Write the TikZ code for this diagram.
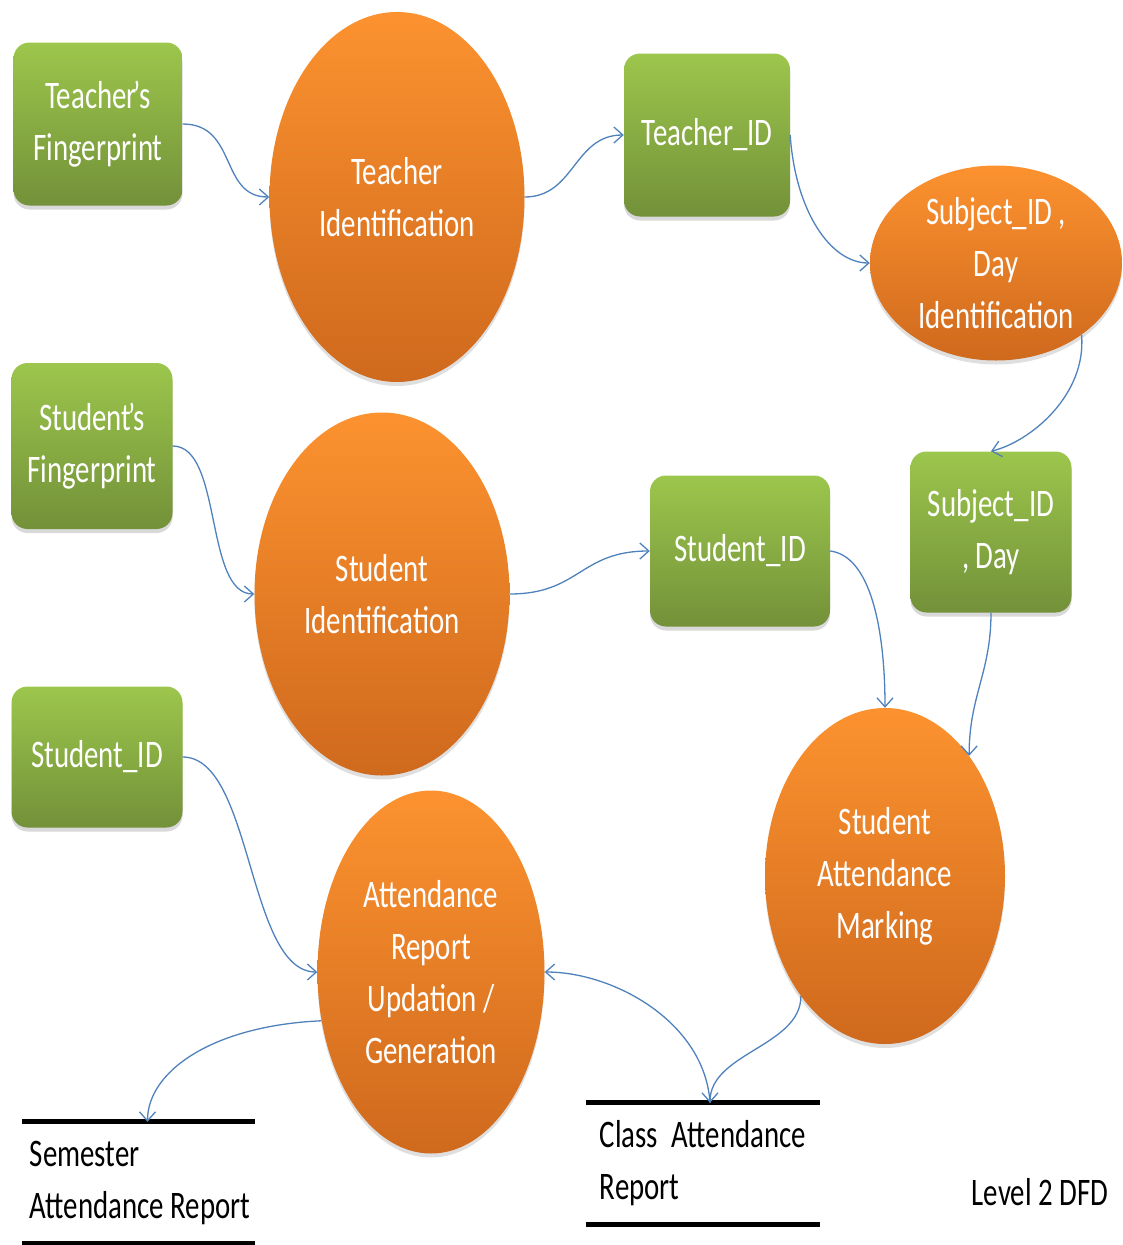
\documentclass[tikz,border=0pt]{standalone}
\usepackage{fontspec}
\setmainfont{Carlito}[FakeStretch=0.74]
\usetikzlibrary{shapes.geometric,arrows.meta,shadows}

\definecolor{greenTop}{HTML}{9CC64C}
\definecolor{greenBot}{HTML}{739139}
\definecolor{orangeTop}{HTML}{FC922F}
\definecolor{orangeBot}{HTML}{CF691D}
\definecolor{flow}{HTML}{4F81BD}

\begin{document}
\begin{tikzpicture}[x=1pt,y=-1pt,
  every node/.style={font=\fontsize{39}{52}\selectfont},
  entity/.style={rectangle, rounded corners=16pt, top color=greenTop, bottom color=greenBot,
    text=white, align=center, inner sep=0pt,
    drop shadow={opacity=0.3, shadow xshift=0pt, shadow yshift=-4pt}},
  process/.style={ellipse, top color=orangeTop, bottom color=orangeBot,
    text=white, align=center, inner sep=0pt,
    drop shadow={opacity=0.25, shadow xshift=0pt, shadow yshift=-4pt}},
  flowline/.style={draw=flow, line width=1.3pt, -{Straight Barb[length=9pt,width=16pt]}},
  storeline/.style={line width=5pt, draw=black},
  store/.style={minimum width=233pt, minimum height=121pt, align=left, inner sep=0pt}
]
\useasboundingbox (0,0) rectangle (1123,1245);

% external entities
\node[entity, minimum width=169pt, minimum height=163pt] (tfp) at (98,124) {Teacher\kern-0.08em’s\\Fingerprint};
\node[entity, minimum width=166pt, minimum height=163pt] (tid) at (707,135) {Teacher\_ID};
\node[entity, minimum width=161pt, minimum height=166pt] (sfp) at (92,446) {Student\kern-0.08em’s\\Fingerprint};
\node[entity, minimum width=180pt, minimum height=151pt] (sid) at (740,551) {Student\_ID};
\node[entity, minimum width=161pt, minimum height=161pt] (sd) at (991,532) {Subject\_ID\\, Day};
\node[entity, minimum width=171pt, minimum height=141pt] (sidl) at (97,757) {Student\_ID};

% processes
\node[process, minimum width=255pt, minimum height=370pt] (ti) at (397,197) {Teacher\\Identification};
\node[process, minimum width=252pt, minimum height=195pt] (sdi) at (996,263) {Subject\_ID ,\\Day\\Identification};
\node[process, minimum width=255pt, minimum height=363pt] (si) at (382,594) {Student\\Identification};
\node[process, minimum width=240pt, minimum height=336pt] (sam) at (885,876) {Student\\Attendance\\Marking};
\node[process, minimum width=227pt, minimum height=363pt] (arg) at (431,972) {Attendance\\Report\\Updation /\\Generation};

% data stores
\node[store] (sem) at (138.5,1182.5) {\hspace{3pt}Semester\\\hspace{3pt}Attendance Report};
\draw[storeline] (sem.north west) -- (sem.north east);
\draw[storeline] (sem.south west) -- (sem.south east);
\node[store] (cls) at (703,1163.5) {Class\hspace{0.35em}Attendance\\Report};
\draw[storeline] (cls.north west) -- (cls.north east);
\draw[storeline] (cls.south west) -- (cls.south east);

\node (lvl) at (1040,1192) {Level 2 DFD};

% data flows
\draw[flowline] (tfp.east) .. controls +(55,0) and +(-50,0) .. (ti.west);
\draw[flowline] (ti.east) .. controls +(50,0) and +(-50,0) .. (tid.west);
\draw[flowline] (tid.east) .. controls +(5,75) and +(-40,0) .. (sdi.west);
\draw[flowline] (sdi.-40) .. controls +(5,60) and +(40,-10) .. (sd.north);
\draw[flowline] (sfp.east) .. controls +(50,0) and +(-50,0) .. (si.west);
\draw[flowline] (si.east) .. controls +(70,0) and +(-70,0) .. (sid.west);
\draw[flowline] (sid.east) .. controls +(40,5) and +(0,-80) .. (sam.north);
\draw[flowline] (sd.south) .. controls +(0,60) and +(0,-60) .. (sam.55);
\draw[flowline] (sidl.east) .. controls +(70,0) and +(-70,0) .. (arg.west);
\draw[flowline] (arg.-156) .. controls +(-110,5) and +(0,-50) .. ([xshift=9pt]sem.north);
\draw[flowline] (sam.-125) .. controls +(0,50) and +(0,-50) .. ([xshift=7pt]cls.north);
\draw[flowline] ([xshift=7pt]cls.north) .. controls +(-5,-80) and +(70,0) .. (arg.east);
\end{tikzpicture}
\end{document}
